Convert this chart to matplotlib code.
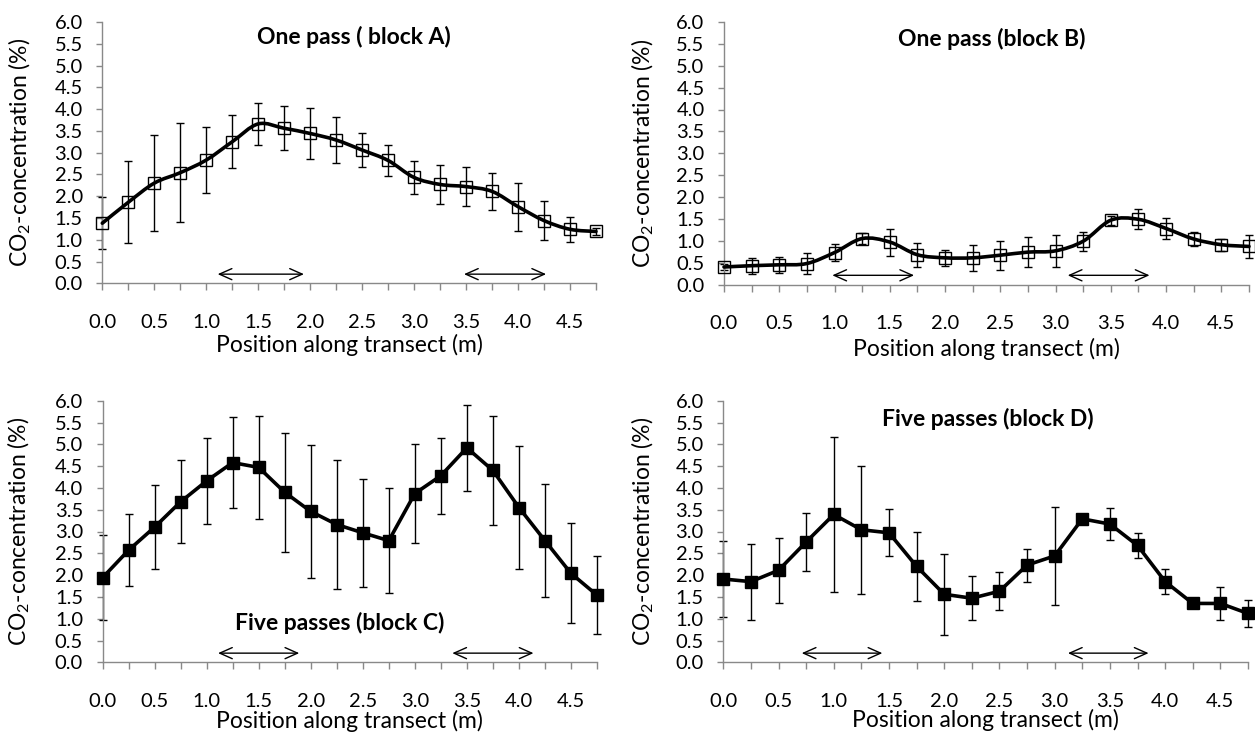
import numpy as np
import matplotlib
matplotlib.use("Agg")
import matplotlib.pyplot as plt
from matplotlib.path import Path
from matplotlib.patches import PathPatch

plt.rcParams['font.family'] = ['Lato', 'DejaVu Sans']
plt.rcParams['mathtext.fontset'] = 'custom'
plt.rcParams['mathtext.rm'] = 'Lato'

# positions along the transect (m)
position = np.arange(20) * 0.25

# block A: one pass
block_a = [1.38, 1.86, 2.30, 2.54, 2.83, 3.25, 3.66, 3.56, 3.44, 3.29,
           3.06, 2.82, 2.43, 2.27, 2.22, 2.11, 1.76, 1.44, 1.24, 1.19]
block_a_err = [0.60, 0.94, 1.11, 1.13, 0.75, 0.61, 0.49, 0.50, 0.58, 0.52,
               0.40, 0.36, 0.38, 0.45, 0.44, 0.42, 0.55, 0.45, 0.29, 0.08]

# block B: one pass
block_b = [0.40, 0.43, 0.45, 0.48, 0.73, 1.05, 0.97, 0.68, 0.61, 0.61,
           0.67, 0.74, 0.77, 0.99, 1.47, 1.49, 1.28, 1.04, 0.91, 0.87]
block_b_err = [0.06, 0.18, 0.18, 0.25, 0.20, 0.13, 0.31, 0.28, 0.19, 0.30,
               0.33, 0.34, 0.37, 0.22, 0.10, 0.23, 0.23, 0.17, 0.14, 0.27]

# block C: five passes
block_c = [1.94, 2.57, 3.10, 3.68, 4.16, 4.58, 4.47, 3.90, 3.46, 3.16,
           2.97, 2.79, 3.87, 4.28, 4.92, 4.40, 3.55, 2.79, 2.04, 1.54]
block_c_err = [0.97, 0.82, 0.96, 0.95, 0.98, 1.05, 1.18, 1.36, 1.52, 1.49,
               1.24, 1.21, 1.14, 0.87, 0.99, 1.26, 1.40, 1.30, 1.15, 0.90]

# block D: five passes
block_d = [1.91, 1.85, 2.11, 2.76, 3.39, 3.04, 2.97, 2.20, 1.56, 1.47,
           1.63, 2.23, 2.44, 3.29, 3.17, 2.68, 1.85, 1.35, 1.35, 1.12]
block_d_err = [0.87, 0.87, 0.75, 0.66, 1.77, 1.47, 0.54, 0.79, 0.93, 0.51,
               0.43, 0.38, 1.12, 0.05, 0.37, 0.28, 0.28, 0.05, 0.37, 0.32]

# double arrows (start, end) marking the wheel tracks
arrows_a = [(1.11, 1.94), (3.48, 4.27)]
arrows_b = [(0.98, 1.72), (3.11, 3.85)]
arrows_c = [(1.11, 1.89), (3.36, 4.14)]
arrows_d = [(0.71, 1.44), (3.12, 3.85)]

titles = ["One pass ( block A)", "One pass (block B)",
          "Five passes (block C)", "Five passes (block D)"]

GRAY = '#898989'


def smooth_path(x, y):
    """Bezier path through the points, like Excel's smoothed line"""
    pts = np.column_stack([x, y])
    n = len(pts)
    verts = [pts[0]]
    codes = [Path.MOVETO]
    for i in range(n - 1):
        p0 = pts[max(i - 1, 0)]
        p1 = pts[i]
        p2 = pts[i + 1]
        p3 = pts[min(i + 2, n - 1)]
        c1 = p1 + (p2 - p0) / 6.0
        c2 = p2 - (p3 - p1) / 6.0
        verts += [c1, c2, p2]
        codes += [Path.CURVE4] * 3
    return Path(verts, codes)


def draw_panel(ax, values, errs, arrows, title, title_xy, filled, smooth,
               xlabel_y, ylabel_x):
    ax.errorbar(position, values, yerr=errs, fmt='none', ecolor='black',
                elinewidth=1.0, capsize=3, capthick=1.0, zorder=2, clip_on=False)
    if smooth:
        ax.add_patch(PathPatch(smooth_path(position, values), fill=False,
                               lw=2.6, edgecolor='black', zorder=3,
                               capstyle='round', joinstyle='round', clip_on=False))
    else:
        ax.plot(position, values, '-', color='black', lw=2.6, zorder=3,
                solid_joinstyle='round', clip_on=False)
    ax.plot(position, values, 's', ms=9, mew=1.0, mec='black',
            mfc='black' if filled else 'none', zorder=4, clip_on=False)

    for x0, x1 in arrows:
        ax.annotate('', xy=(x1, 0.21), xytext=(x0, 0.21),
                    arrowprops=dict(arrowstyle='<->,head_length=0.9,head_width=0.4',
                                    lw=1.0, color='black', shrinkA=0, shrinkB=0))

    ax.text(title_xy[0], title_xy[1], title, transform=ax.transAxes,
            ha='center', va='center', fontsize=16.5, fontweight='bold')

    ax.set_xlim(0, 4.75)
    ax.set_ylim(0, 6)
    ax.set_xticks(position)
    ax.set_xticklabels([f"{v:.1f}" if i % 2 == 0 else '' for i, v in enumerate(position)])
    ax.set_yticks(np.arange(0, 6.01, 0.5))
    ax.set_yticklabels([f"{v:.1f}" for v in np.arange(0, 6.01, 0.5)])

    for side in ['top', 'right']:
        ax.spines[side].set_visible(False)
    for side in ['left', 'bottom']:
        ax.spines[side].set_color(GRAY)
        ax.spines[side].set_linewidth(1.0)
    ax.tick_params(axis='x', direction='out', length=5, width=1.0, color=GRAY,
                   pad=17, labelsize=14.5)
    ax.tick_params(axis='y', direction='out', length=4.5, width=1.0, color=GRAY,
                   pad=9.5, labelsize=14.5)

    ax.set_xlabel("Position along transect (m)", fontsize=16.5, va='center')
    ax.set_ylabel("CO$_\\mathregular{2}$-concentration (%)", fontsize=16.5)
    ax.xaxis.set_label_coords(0.5, xlabel_y)
    ax.yaxis.set_label_coords(ylabel_x, 0.5)


fig = plt.figure(figsize=(12.55, 7.38), dpi=100)

W, H = 1255.0, 738.0
ax_a = fig.add_axes([102.3 / W, 1 - 283.3 / H, (596 - 102.3) / W, (283.3 - 22) / H])
ax_b = fig.add_axes([724 / W, 1 - 284.5 / H, (1249 - 724) / W, (284.5 - 22) / H])
ax_c = fig.add_axes([102.5 / W, 1 - 662.3 / H, (597 - 102.5) / W, (662.3 - 400.7) / H])
ax_d = fig.add_axes([723.3 / W, 1 - 662.3 / H, (1248 - 723.3) / W, (662.3 - 400.7) / H])

draw_panel(ax_a, block_a, block_a_err, arrows_a, titles[0], (0.51, 0.944), False, True,
           -0.236, -0.14)
draw_panel(ax_b, block_b, block_b_err, arrows_b, titles[1], (0.51, 0.936), False, True,
           -0.245, -0.13)
draw_panel(ax_c, block_c, block_c_err, arrows_c, titles[2], (0.48, 0.15), True, False,
           -0.225, -0.142)
draw_panel(ax_d, block_d, block_d_err, arrows_d, titles[3], (0.505, 0.93), True, False,
           -0.222, -0.128)

fig.savefig("out.png", dpi=100)
plt.close(fig)
